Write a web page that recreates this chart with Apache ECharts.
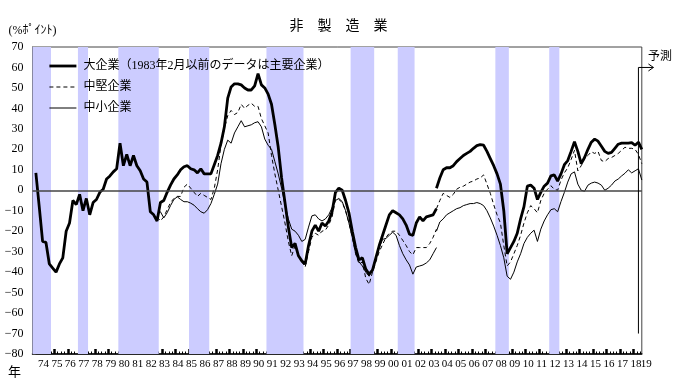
<!DOCTYPE html>
<html><head><meta charset="utf-8">
<script src="https://cdn.jsdelivr.net/npm/echarts@6/dist/echarts.min.js"></script>
<style>html,body{margin:0;padding:0;background:#fff}#c{width:677px;height:392px}</style>
</head><body><div id="c"></div>
<script>
// x positions are quarter indices: 0 = Dec 1973, 1 = Mar 1974, ..., 180 = Dec 2018, 181 = Mar 2019 (forecast)
const yearLabels = ['74','75','76','77','78','79','80','81','82','83','84','85','86','87','88','89','90','91','92','93','94','95','96','97','98','99','00','01','02','03','04','05','06','07','08','09','10','11','12','13','14','15','16','17','18','19'];

// Large firms (principal enterprises before Feb 1983), old basis, quarters 1..120
const largeOld = [8.5,-8,-25,-25.5,-36,-38,-40,-36,-33,-20,-16,-5,-7,-2,-10,-4,-12,-6,-4.5,-1,
  0.5,5.5,7,9,10.5,23,12,17.5,12,17,12,9.5,5.5,4,-10.5,-12,-15,-6,-5,-1,
  2.5,5.5,7.5,10,11.5,12,10.5,10,8.5,10.5,8,8,8,12.5,17,23,31,45,50.5,52,
  52,51.5,50,49,49,51,57,51.5,50,47,42,32,21,6,-6,-18,-28,-26,-32,-34.5,
  -36,-27,-20,-17,-20,-16,-17.5,-15,-10.5,-1,1,0,-5,-11,-20,-28,-34,-33,-38.5,-41,
  -39,-33,-27,-22,-17,-12,-10,-11,-12,-14,-17,-21.5,-22,-16,-13,-15,-13,-12.5,-12,-9];
// Large firms, new basis, quarters 120..181
const largeNew = [1,6,10,11,11,12,14,15.5,17,18,19,20.5,21.8,22.3,22,19,15.5,12,8,3,
  -10,-31,-28,-25,-21,-14,-8,2,2.5,1,-4.5,-1,2,3.5,7,7.5,4.5,8,12.5,14.5,
  19,23.7,19,13,16,20,23.5,25,24,21.5,19,18,18.5,20.5,22.5,23,23,23,23.3,22,
  23.5,20];
// Medium-sized firms, old basis, quarters 37..120
const midOld = [-13,-15,-13,-9.5,-6,-4,-3,-3,1.5,3,1,-1,-3,-1.5,-2.5,-3.5,-4.5,1,10,22,
  30,36.5,39,37,38,42,40,41.5,42.5,41,41,35,31.5,28,17,8,0,-8,-16,-25,
  -32,-27,-32,-35,-37.5,-30,-23,-21,-22,-20,-19.5,-17,-13,-4.5,-4.5,-6,-10,-16,-23,-31,
  -36,-35,-43,-46,-40,-35,-30,-26.5,-23,-21,-20,-20,-22,-24.5,-27,-30,-31.5,-28,-28,-28,
  -28,-26,-23,-19];
// Medium-sized firms, new basis, quarters 120..181
const midNew = [-9,-5,-1.5,-2.5,-3.5,-2,0.5,1.5,2,3,4,4.5,5.5,6,7.5,3,-1.5,-7,-12,-16,
  -27,-37,-35,-31,-27,-22,-16,-11,-7.5,-9,-11,-5,-1.5,0.5,2.2,0.5,0,5,8.5,11,
  15,19.5,9.5,12,15.5,17,18.8,18,19,14.5,14,15.5,16,17,18,19.5,21,20.5,20.5,20,
  17.5,13];
// Small firms, old basis, quarters 37..120
const smallOld = [-12,-10.5,-13.5,-11,-7.5,-4.5,-3.2,-4.5,-5.6,-5.6,-6.3,-7.3,-9,-10.5,-11.2,-9.5,-6.5,-2,3,13,
  20,24.5,23,28,31,34,31,31.5,32,33,33.5,31,25,22,20,14,8,1,-7,-14,
  -19,-20,-22,-25,-24,-18,-12.5,-12,-14,-15,-14,-12,-8.5,-5,-4,-5.5,-10,-16,-23,-31,
  -35,-37,-40,-42,-38.5,-33,-28,-24,-23.5,-22,-20.5,-22,-27,-31,-34,-36.5,-41,-37.5,-37,-36.5,
  -35.5,-34,-31,-28];
// Small firms, new basis, quarters 120..181
const smallNew = [-20,-15.5,-14,-12,-11,-10,-9,-8.5,-7.5,-7,-6.5,-6.5,-6,-6.5,-7.5,-10,-13.5,-17.5,-22,-27,
  -33,-42,-43.5,-40,-35,-31,-26,-23,-21,-19.5,-25,-19,-15,-12,-9.5,-9,-10.5,-5.5,-1,4,
  8,9,3,0,-0.5,2.5,3.5,4,3.5,2.5,0,1,2.5,4.5,5.5,7,8.3,10,8.5,9.5,
  10.5,5];
// Recession periods (first and last quarter index), shaded
const recessions = [[0,5],[14,16],[26,37],[47,52],[70,80],[95,101],[109,113],[138,141],[154,156]];
const forecastIndex = 180;  // last actual quarter (Dec 2018)

const names = ['大企業（1983年2月以前のデータは主要企業）','中堅企業','中小企業'];
const NQ = 181;
const FONT = "'Liberation Serif','Noto Sans CJK JP',serif";

function pairs(start, vals){ return vals.map((v,i)=>[start+i, v]); }
function joined(s1, a, s2, b){ return pairs(s1,a).concat([[s2,'-']], pairs(s2,b)); }
const tickCats = Array.from({length: NQ}, (_, k) => 'q' + k);

const styles = [
  { color: '#000', width: 2.8, type: 'solid' },
  { color: '#000', width: 1, type: [4, 3] },
  { color: '#000', width: 1, type: 'solid' }
];

const chart = echarts.init(document.getElementById('c'), null, {renderer:'canvas'});
const option = {
  animation: false,
  backgroundColor: '#fff',
  title: { text: '非　製　造　業', left: 'center', top: 13,
    textStyle: { fontSize: 14, fontWeight: 'normal', color: '#000', fontFamily: "'Noto Sans CJK JP',sans-serif" } },
  legend: {
    data: names.map((n, i) => ({ name: n, lineStyle: styles[i] })),
    orient: 'vertical', left: 43, top: 55, itemWidth: 27, itemHeight: 14, itemGap: 9,
    itemStyle: { opacity: 0 },
    textStyle: { fontSize: 12, color: '#000', fontFamily: FONT, padding: [0,0,0,2] }
  },
  grid: { left: 32.5, right: 35.2, top: 47, bottom: 38, show: true, borderColor: '#444', borderWidth: 1, backgroundColor: 'transparent' },
  xAxis: [
    { type: 'value', min: 0, max: NQ, show: false },
    { type: 'category', data: tickCats, boundaryGap: true, position: 'bottom',
      axisLine: { show: false },
      axisTick: { show: true, inside: true, length: 2.5, alignWithLabel: true, interval: 0, lineStyle: { color: '#000', width: 1 } },
      axisLabel: { show: false }, splitLine: { show: false } },
    { type: 'category', data: tickCats, boundaryGap: true, position: 'bottom',
      axisLine: { show: true, lineStyle: { color: '#000', width: 1.5 } },
      axisTick: { show: true, inside: true, length: 5, alignWithLabel: true, interval: (i) => i % 4 === 2, lineStyle: { color: '#000', width: 2.5 } },
      axisLabel: { show: true, interval: (i) => i % 4 === 2, margin: 5, padding: [0,0,0,5],
        formatter: (v, i) => yearLabels[(i - 2) / 4] || '', fontSize: 11, color: '#000', fontFamily: FONT },
      splitLine: { show: false } }
  ],
  yAxis: {
    type: 'value', min: -80, max: 70, interval: 10,
    name: '(%ﾎﾟｲﾝﾄ)', nameLocation: 'end', nameGap: 10,
    nameTextStyle: { fontSize: 12, color: '#000', fontFamily: FONT, align: 'center' },
    axisLine: { show: true, lineStyle: { color: '#444', width: 1 } },
    axisTick: { show: true, inside: true, length: 3, lineStyle: { color: '#444' } },
    axisLabel: { margin: 9, fontSize: 12, color: '#000', fontFamily: FONT, formatter: (v) => String(v).replace('-', '−') },
    splitLine: { show: false }
  },
  series: [
    { name: 'bands', type: 'line', data: [], xAxisIndex: 0, z: 1, silent: true,
      markArea: { silent: true, itemStyle: { color: '#ccccff' },
        data: recessions.map(r => [{ xAxis: Math.max(0, r[0] - 0.5) }, { xAxis: Math.min(NQ, r[1] + 0.5) }]) } },
    { name: names[0], type: 'line', xAxisIndex: 0, z: 4, symbol: 'none', connectNulls: false,
      lineStyle: styles[0], itemStyle: { color: '#000' },
      data: joined(1, largeOld, 120, largeNew) },
    { name: names[1], type: 'line', xAxisIndex: 0, z: 3, symbol: 'none', connectNulls: false,
      lineStyle: styles[1], itemStyle: { color: '#000' },
      data: joined(37, midOld, 120, midNew) },
    { name: names[2], type: 'line', xAxisIndex: 0, z: 3, symbol: 'none', connectNulls: false,
      lineStyle: styles[2], itemStyle: { color: '#000' },
      data: joined(37, smallOld, 120, smallNew),
      markLine: { silent: true, symbol: 'none', label: { show: false },
        lineStyle: { color: '#444', width: 1.5, type: 'solid' }, data: [{ yAxis: 0 }] } }
  ]
};
chart.setOption(option);

// forecast marker and extra texts, positioned through the chart's own scales
const pTop = chart.convertToPixel({ seriesIndex: 1 }, [forecastIndex, 60]);
const pBot = chart.convertToPixel({ seriesIndex: 1 }, [forecastIndex, -70]);
const pEnd = chart.convertToPixel({ seriesIndex: 1 }, [NQ, -80]);
chart.setOption({
  graphic: [
    { type: 'polyline', z: 10, silent: true, shape: { points: [[pTop[0], pBot[1]], [pTop[0], pTop[1]], [pTop[0] + 15, pTop[1]]] },
      style: { stroke: '#000', lineWidth: 1, fill: null } },
    { type: 'polyline', z: 10, silent: true, shape: { points: [[pTop[0] + 10, pTop[1] - 3.5], [pTop[0] + 15, pTop[1]], [pTop[0] + 10, pTop[1] + 3.5]] },
      style: { stroke: '#000', lineWidth: 1, fill: null } },
    { type: 'text', z: 10, silent: true, left: 648, top: 49,
      style: { text: '予測', fontSize: 12, fill: '#000', fontFamily: "'Noto Sans CJK JP',sans-serif" } },
    { type: 'text', z: 10, silent: true, left: 8, top: 365,
      style: { text: '年', fontSize: 13, fill: '#000', fontFamily: "'Noto Sans CJK JP',sans-serif" } },
    { type: 'text', z: 10, silent: true, x: pEnd[0] + 4.5, y: pEnd[1] + 5,
      style: { text: yearLabels[yearLabels.length - 1], fontSize: 11, fill: '#000', fontFamily: FONT, align: 'center', verticalAlign: 'top' } }
  ]
});
</script></body></html>
